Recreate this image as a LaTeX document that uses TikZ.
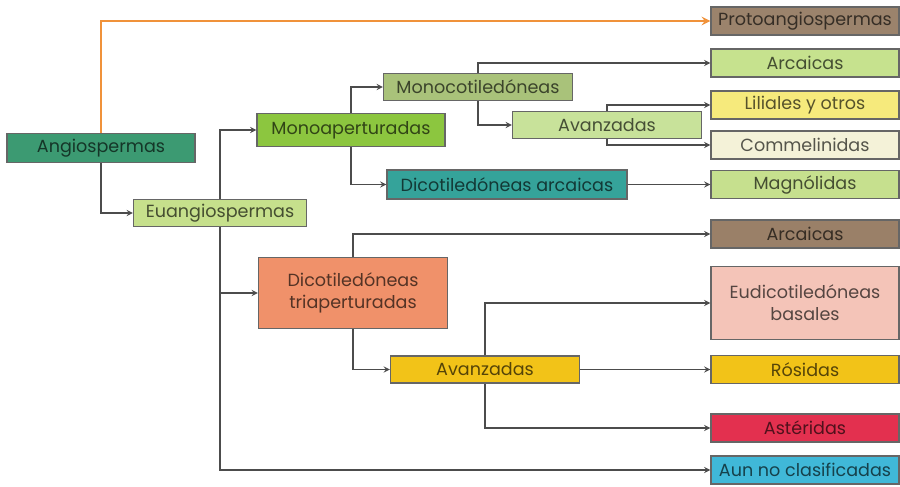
\documentclass[tikz,border=0pt]{standalone}
\usepackage{fontspec}
\setmainfont{Poppins}
\definecolor{angio}{HTML}{3C9A72}
\definecolor{euan}{HTML}{C6E08C}
\definecolor{monoap}{HTML}{8CC63F}
\definecolor{monoc}{HTML}{A9C27A}
\definecolor{avmono}{HTML}{C8E29A}
\definecolor{dicarc}{HTML}{35A39A}
\definecolor{ditri}{HTML}{F0916A}
\definecolor{avdi}{HTML}{F2C318}
\definecolor{proto}{HTML}{9B836C}
\definecolor{arcv}{HTML}{C6E28E}
\definecolor{lili}{HTML}{F6EA7C}
\definecolor{comm}{HTML}{F4F2D8}
\definecolor{magn}{HTML}{C6E08E}
\definecolor{arcm}{HTML}{9A8068}
\definecolor{eudi}{HTML}{F4C4B8}
\definecolor{rosi}{HTML}{F2C318}
\definecolor{aste}{HTML}{E3304F}
\definecolor{aun}{HTML}{40B8D8}
\definecolor{naranja}{HTML}{F0923A}
\begin{document}
\begin{tikzpicture}[x=0.02cm,y=-0.02cm]
	\tikzset{b/.style={draw=black!60,line width=0.7pt,fill=#1,text=#1!35!black,minimum height=0.56cm,inner sep=1pt,align=center,font=\fontsize{10}{12.5}\selectfont},
	r/.style={b=#1,minimum width=3.76cm},
	fl/.style={draw=black!70,line width=0.6pt,-stealth}}
	\useasboundingbox(0,0)rectangle(900,487);
	\path(101,148)node[b=angio,minimum width=3.76cm,minimum height=0.58cm](An){Angiospermas}
	(220,213)node[b=euan,minimum width=3.46cm,minimum height=0.54cm](Eu){Euangiospermas}
	(351,130)node[b=monoap,minimum width=3.76cm,minimum height=0.66cm](Ma){Monoaperturadas}
	(478,87)node[b=monoc,minimum width=3.78cm,minimum height=0.54cm](Mc){Monocotiledóneas}
	(607,125)node[b=avmono,minimum width=3.78cm,minimum height=0.54cm](Am){Avanzadas}
	(507,184.5)node[b=dicarc,minimum width=4.8cm,minimum height=0.58cm](Da){Dicotiledóneas arcaicas}
	(353,293)node[b=ditri,minimum width=3.78cm,minimum height=1.42cm](Dt){Dicotiledóneas\\triaperturadas}
	(485,369.5)node[b=avdi,minimum width=3.78cm,minimum height=0.54cm](Ad){Avanzadas};
	% columna derecha
	\path(805,21)node[r=proto](Pr){Protoangiospermas}
	(805,63)node[r=arcv](Ar1){Arcaicas}
	(805,105)node[r=lili](Li){Liliales y otros}
	(805,145)node[r=comm](Co){Commelinidas}
	(805,184.5)node[r=magn](Mg){Magnólidas}
	(805,234)node[r=arcm](Ar2){Arcaicas}
	(805,303)node[r=eudi,minimum height=1.46cm](Ed){Eudicotiledóneas\\basales}
	(805,369.5)node[r=rosi](Ro){Rósidas}
	(805,428)node[r=aste](As){Astéridas}
	(805,470)node[r=aun](Au){Aun no clasificadas};
	\draw[draw=naranja,line width=1.2pt,-stealth](An.north)|-(Pr.west);
	\foreach \x/\y in {
	An.south/Eu,Eu.north/Ma,Eu.south/Dt,Eu.south/Au,
	Ma.north/Mc,Ma.south/Da,
	Mc.north/Ar1,Mc.south/Am,
	Am.north/Li,Am.south/Co,
	Dt.north/Ar2,Dt.south/Ad,
	Ad.north/Ed,Ad.south/As}
	\draw[fl](\x)|-(\y.west);
	\draw[fl](Da.east)--(Mg.west);
	\draw[fl](Ad.east)--(Ro.west);
\end{tikzpicture}
\end{document}
